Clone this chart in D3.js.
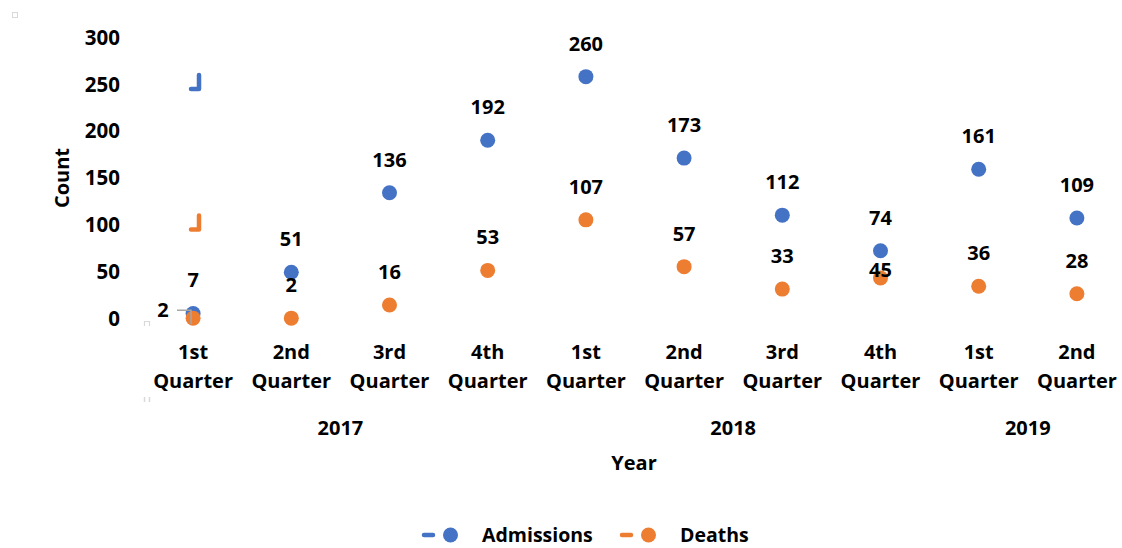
<!DOCTYPE html>
<html>
<head>
<meta charset="utf-8">
<script src="https://cdn.jsdelivr.net/npm/d3@7"></script>
<style>
  body { margin: 0; background: #fff; }
  svg text { font-family: "Open Sans", sans-serif; font-weight: 700; fill: #000; }
</style>
</head>
<body>
<svg width="1122" height="548"></svg>
<script>
// data
var quarters = ["1st Quarter", "2nd Quarter", "3rd Quarter", "4th Quarter",
                "1st Quarter", "2nd Quarter", "3rd Quarter", "4th Quarter",
                "1st Quarter", "2nd Quarter"];
var years = ["2017", "2017", "2017", "2017", "2018", "2018", "2018", "2018", "2019", "2019"];
var admissions = [7, 51, 136, 192, 260, 173, 112, 74, 161, 109];
var deaths = [2, 2, 16, 53, 107, 57, 33, 45, 36, 28];
var yTicks = [0, 50, 100, 150, 200, 250, 300];
var seriesNames = ["Admissions", "Deaths"];
var seriesColors = ["#4472C4", "#ED7D31"];

function drawChart()
{
    var svg = d3.select("svg");
    var fontSize = 20;

    var keys = quarters.map(function (d, i) { return i; });
    var xScale = d3.scaleBand()
                    .domain(keys)
                    .range([144, 1126]);
    var yScale = d3.scaleLinear()
                    .domain([0, 300])
                    .range([320, 39.2]);
    var cx = function (i) { return xScale(i) + xScale.bandwidth() / 2; };

    // y axis tick labels, no line
    var y_axis = d3.axisLeft(yScale).tickValues(yTicks).tickSize(0).tickPadding(0);
    var gy = svg.append("g")
        .attr("transform", "translate(120,-2)")
        .call(y_axis);
    gy.select(".domain").remove();
    gy.selectAll("text")
        .style("font-size", "20.5px")
        .attr("dy", "0.35em");

    // quarter labels on two lines
    var x_axis = d3.axisBottom(xScale).tickSize(0).tickFormat(function () { return ""; });
    var gx = svg.append("g")
        .attr("transform", "translate(0,330)")
        .call(x_axis);
    gx.select(".domain").remove();
    gx.selectAll(".tick").each(function (i) {
        var parts = quarters[i].split(" ");
        var t = d3.select(this).select("text")
            .attr("y", 0)
            .attr("dy", null)
            .style("font-size", fontSize + "px");
        t.append("tspan").attr("x", 0).attr("y", 29).text(parts[0]);
        t.append("tspan").attr("x", 0).attr("y", 58).text(parts[1]);
    });

    // year group labels
    var yearList = Array.from(new Set(years));
    yearList.forEach(function (yr) {
        var idx = keys.filter(function (i) { return years[i] === yr; });
        var mid = (cx(idx[0]) + cx(idx[idx.length - 1])) / 2;
        svg.append("text")
            .attr("x", mid)
            .attr("y", 435)
            .attr("text-anchor", "middle")
            .style("font-size", fontSize + "px")
            .text(yr);
    });

    // axis titles
    svg.append("text")
        .attr("x", 634)
        .attr("y", 470)
        .attr("text-anchor", "middle")
        .style("font-size", fontSize + "px")
        .text("Year");
    svg.append("text")
        .attr("transform", "translate(69,178) rotate(-90)")
        .attr("text-anchor", "middle")
        .style("font-size", fontSize + "px")
        .text("Count");

    // stray marks from the original chart
    svg.append("rect").attr("x", 12.5).attr("y", 12.5).attr("width", 5).attr("height", 5)
        .style("fill", "none").style("stroke", "#d9d9d9").style("stroke-width", 1);
    svg.append("path").attr("d", "M144.5,326 V321.5 H149.5 V326")
        .style("fill", "none").style("stroke", "#d9d9d9").style("stroke-width", 1.2);
    svg.append("path").attr("d", "M144.5,397 V402 M149.5,397 V402")
        .style("fill", "none").style("stroke", "#d9d9d9").style("stroke-width", 1.5);
    [[250, 0], [100, 1]].forEach(function (s) {
        var y = yScale(s[0]);
        svg.append("path")
            .attr("d", "M199," + (y - 11) + " V" + (y + 3) + " H191")
            .style("fill", "none")
            .style("stroke", seriesColors[s[1]])
            .style("stroke-width", 4.5)
            .style("stroke-linecap", "round")
            .style("stroke-linejoin", "round");
    });

    // markers
    var series = [admissions, deaths];
    series.forEach(function (vals, s) {
        svg.append("g").selectAll("circle")
            .data(vals)
            .enter()
            .append("circle")
            .attr("cx", function (d, i) { return cx(i); })
            .attr("cy", function (d) { return yScale(d); })
            .attr("r", 7.5)
            .style("fill", seriesColors[s]);
    });

    // leader line for the first Deaths label
    svg.append("path")
        .attr("d", "M177," + (yScale(deaths[0]) - 8) + " H191 V" + (yScale(deaths[0]) + 6))
        .style("fill", "none")
        .style("stroke", "#a6a6a6")
        .style("stroke-width", 1.5);

    // data labels
    series.forEach(function (vals, s) {
        svg.append("g").selectAll("text")
            .data(vals)
            .enter()
            .append("text")
            .attr("x", function (d, i) {
                if (s === 1 && i === 0) return 163;
                return cx(i);
            })
            .attr("y", function (d, i) {
                if (s === 1 && i === 0) return yScale(d) - 1;
                if (s === 1 && i === 7) return yScale(d) - 1;
                return yScale(d) - 26;
            })
            .attr("text-anchor", "middle")
            .style("font-size", fontSize + "px")
            .text(function (d) { return d; });
    });

    // legend
    var legendX = [422, 620];
    var textX = [482, 680];
    seriesNames.forEach(function (name, s) {
        var g = svg.append("g");
        g.append("line")
            .attr("x1", legendX[s] + 2).attr("x2", legendX[s] + 11)
            .attr("y1", 535).attr("y2", 535)
            .style("stroke", seriesColors[s])
            .style("stroke-width", 4.5)
            .style("stroke-linecap", "round");
        g.append("circle")
            .attr("cx", legendX[s] + 28.5)
            .attr("cy", 535)
            .attr("r", 7.5)
            .style("fill", seriesColors[s]);
        g.append("text")
            .attr("x", textX[s])
            .attr("y", 542)
            .style("font-size", "19.5px")
            .text(name);
    });
}

drawChart();
</script>
</body>
</html>
